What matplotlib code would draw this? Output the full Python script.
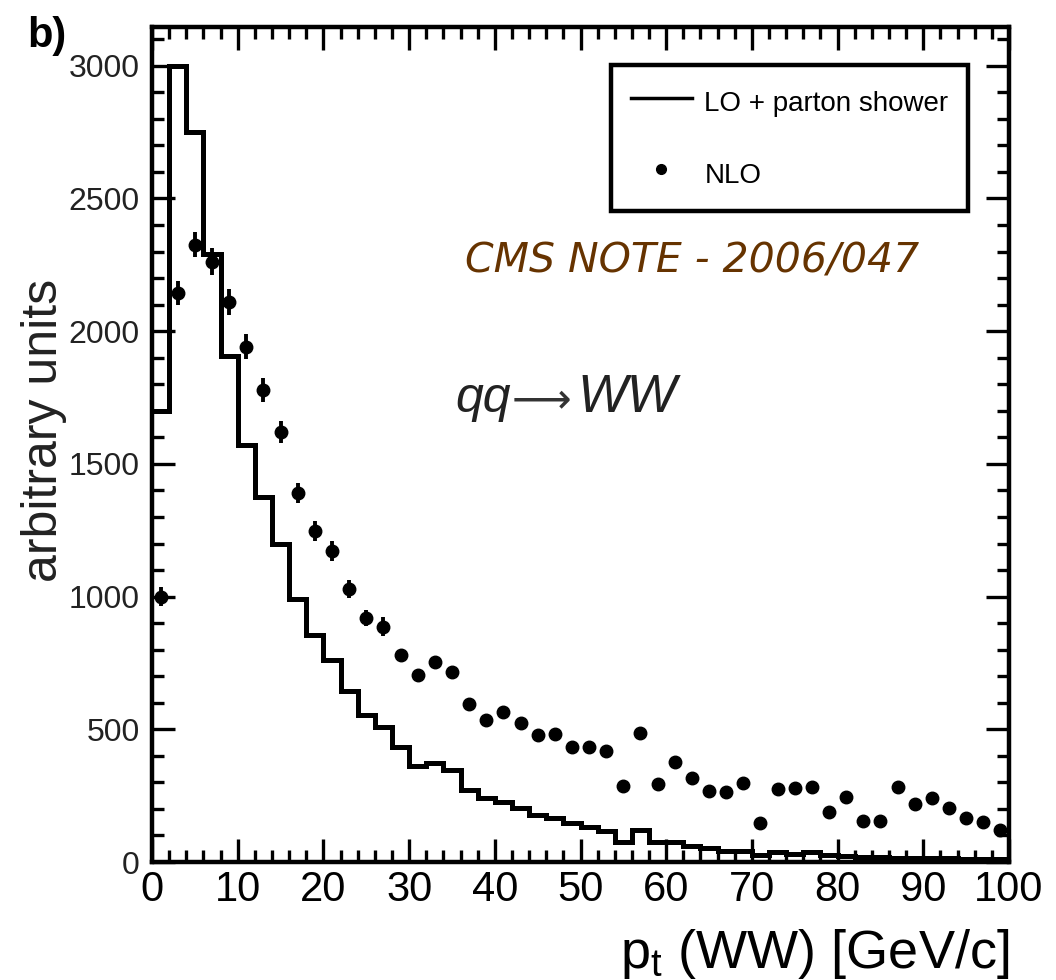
import numpy as np
import matplotlib
matplotlib.use("Agg")
import matplotlib.pyplot as plt
from matplotlib.lines import Line2D
from matplotlib.ticker import MultipleLocator

plt.rcParams['font.family'] = ['Liberation Sans', 'DejaVu Sans']
plt.rcParams['mathtext.fontset'] = 'custom'
plt.rcParams['mathtext.rm'] = 'Liberation Sans'
plt.rcParams['mathtext.it'] = 'Liberation Sans:italic'

# ---- data ----
bin_edges = np.arange(0, 102, 2)
lo_parton_shower = [1700, 3000, 2750, 2290, 1905, 1570, 1375, 1200, 990, 855,
                    760, 645, 555, 510, 435, 360, 372, 347, 272, 240,
                    227, 202, 177, 165, 146, 130, 118, 77, 120, 77,
                    75, 61, 51, 42, 40, 26, 38, 32, 38, 26,
                    22, 20, 18, 16, 15, 15, 14, 13, 12, 12]
nlo_values = [1000, 2143, 2325, 2262, 2111, 1942, 1778, 1619, 1389, 1248,
              1172, 1029, 918, 887, 780, 705, 752, 715, 594, 535,
              564, 523, 478, 481, 434, 432, 418, 286, 485, 294,
              377, 318, 269, 262, 296, 146, 274, 278, 281, 187,
              244, 155, 155, 281, 218, 240, 202, 165, 152, 121]
nlo_errors = [35, 45, 47, 50, 49, 48, 45, 41, 38, 38,
              37, 35, 30, 36, 22, 21, 22, 21, 19, 18,
              18, 18, 17, 17, 16, 16, 16, 13, 17, 13,
              15, 14, 13, 13, 13, 9, 13, 13, 13, 10,
              12, 9, 9, 13, 11, 12, 11, 10, 9, 8]
x_ticks = [0, 10, 20, 30, 40, 50, 60, 70, 80, 90, 100]
y_ticks = [0, 500, 1000, 1500, 2000, 2500, 3000]

centers = (bin_edges[:-1] + bin_edges[1:]) / 2

fig = plt.figure(figsize=(10.56, 9.8), dpi=100)
ax = fig.add_axes([152/1056, 1-862/980, (1009-152)/1056, (862-27)/980])

ax.stairs(lo_parton_shower, bin_edges, color='black', linewidth=3.6, baseline=None)
ax.errorbar(centers, nlo_values, yerr=nlo_errors, fmt='o', color='black',
            ms=9, elinewidth=2.8, capsize=0)

ax.set_xlim(0, 100)
ax.set_ylim(0, 3146)
ax.set_xticks(x_ticks)
ax.set_yticks(y_ticks)
ax.xaxis.set_minor_locator(MultipleLocator(2))
ax.yaxis.set_minor_locator(MultipleLocator(100))
ax.tick_params(which='both', direction='in', top=True, right=True, width=2.4, color='black')
ax.tick_params(which='major', length=16.5)
ax.tick_params(which='minor', length=8.5)
ax.tick_params(axis='x', which='major', labelsize=30, pad=6)
ax.tick_params(axis='y', which='major', labelsize=23, pad=9, labelcolor='#222222')
for sp in ax.spines.values():
    sp.set_linewidth(3.2)

ax.text(1.0, -0.127, r'p$_{\mathrm{t}}$ (WW) [GeV/c]', transform=ax.transAxes,
        ha='right', va='baseline', fontsize=39)
fig.text(44/1056, 1-430/980, 'arbitrary units', rotation=90, ha='center', va='center',
         fontsize=36, color='#222222')
fig.text(27/1056, 1-47/980, 'b)', fontsize=30, fontweight='bold', ha='left', va='baseline')

fig.text(465/1056, 1-273/980, 'CMS NOTE - 2006/047', fontsize=29.5, style='italic',
         color='#663300', family='DejaVu Sans', ha='left', va='baseline')
fig.text(455/1056, 1-412/980, 'qq', fontsize=36, style='italic',
         color='#222222', ha='left', va='baseline')
fig.text(512/1056, 1-412/980, '\u27f6', fontsize=30,
         color='#333333', ha='left', va='baseline', family=['DejaVu Sans'])
fig.text(577/1056, 1-412/980, 'WW', fontsize=38, style='italic',
         color='#222222', ha='left', va='baseline')

handles = [Line2D([], [], color='black', lw=2.5),
           Line2D([], [], color='black', marker='o', ls='none', ms=7)]
leg = ax.legend(handles, ['LO + parton shower', 'NLO'], loc='upper right',
                bbox_to_anchor=(0.952, 0.9545), borderaxespad=0, fontsize=20,
                fancybox=False, frameon=True, edgecolor='black', framealpha=1,
                handlelength=2.2, handletextpad=0.45, labelspacing=1.28,
                handleheight=1.6, borderpad=0.7)
leg.get_frame().set_linewidth(3.2)

fig.savefig('out.png', dpi=100)
